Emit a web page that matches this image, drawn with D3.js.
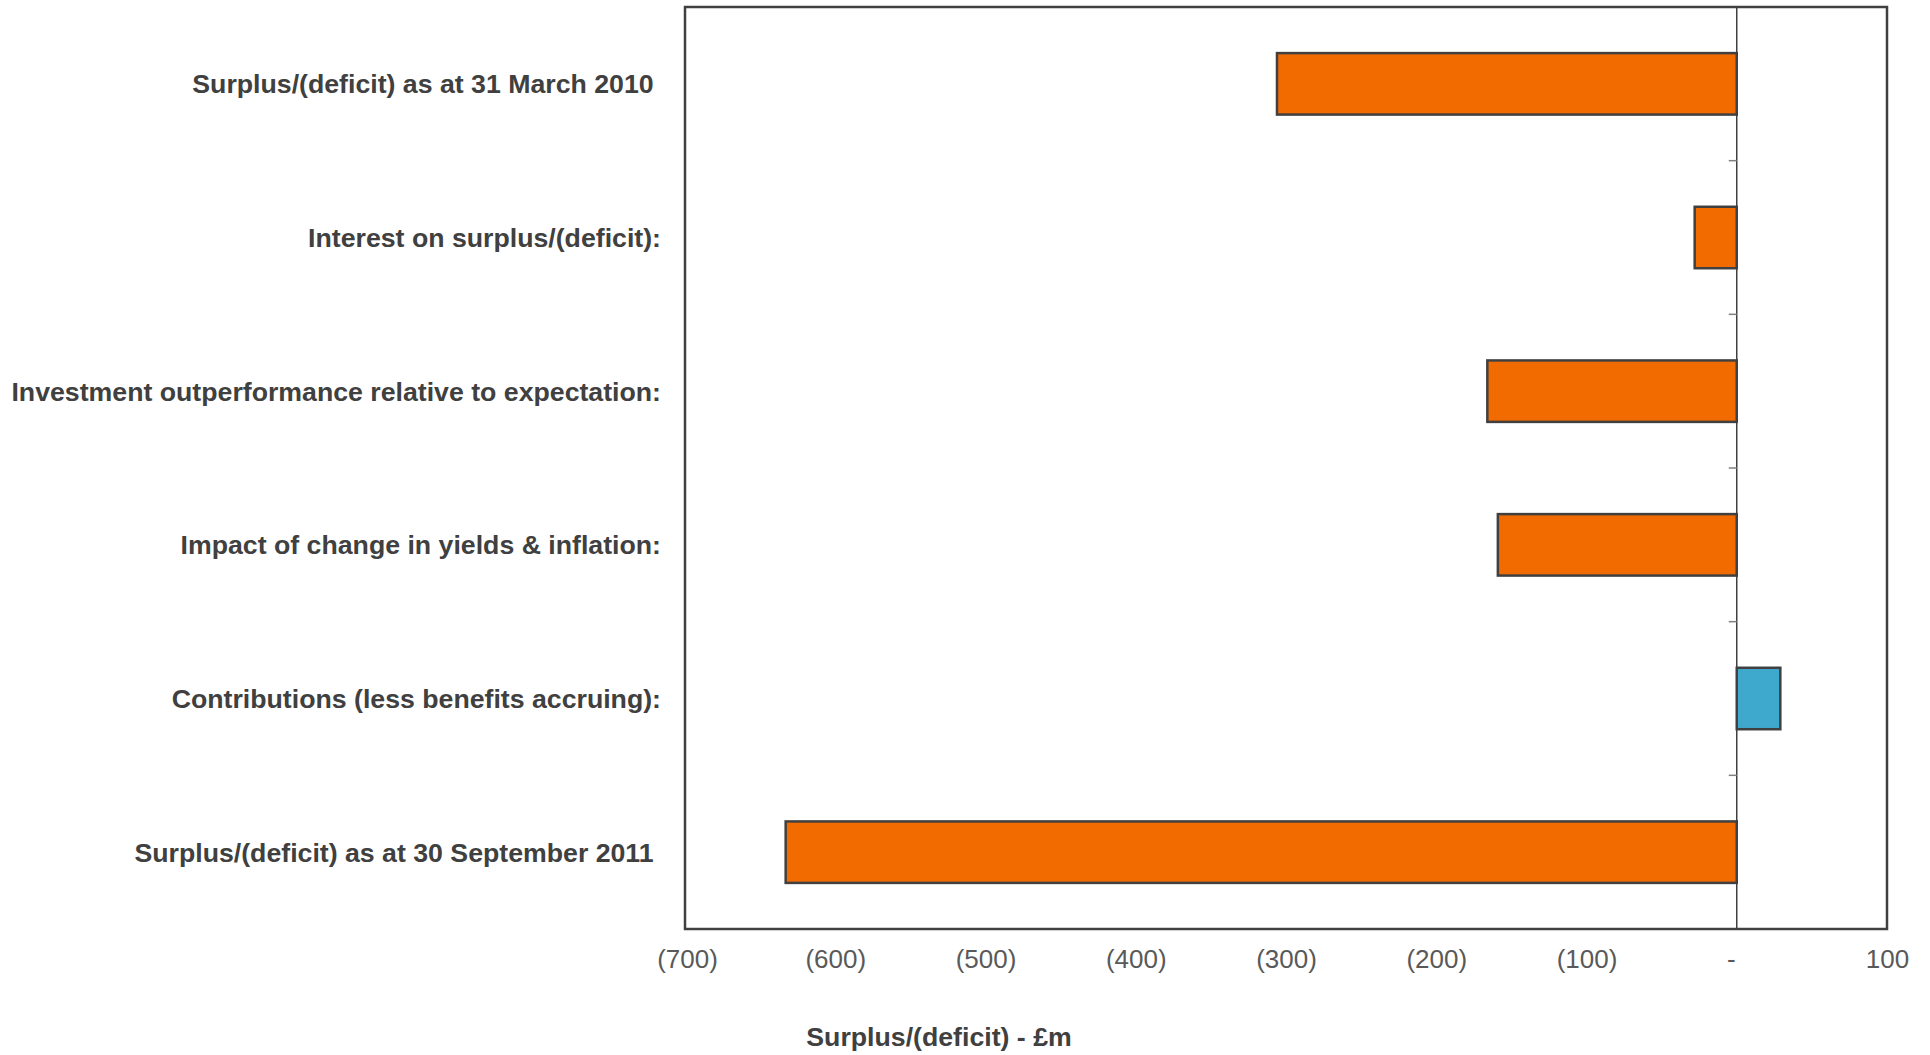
<!DOCTYPE html>
<html>
<head>
<meta charset="utf-8">
<script src="https://cdn.jsdelivr.net/npm/d3@7/dist/d3.min.js"></script>
<style>
  html, body { margin: 0; padding: 0; background: #ffffff; }
  svg { display: block; }
  text { font-family: "Liberation Sans", Arial, sans-serif; white-space: pre; }
</style>
</head>
<body>
<svg id="chart" width="1930" height="1055"></svg>
<script>
// ---- data ----
const categories = [
  "Surplus/(deficit) as at 31 March 2010 ",
  "Interest on surplus/(deficit):",
  "Investment outperformance relative to expectation:",
  "Impact of change in yields & inflation:",
  "Contributions (less benefits accruing):",
  "Surplus/(deficit) as at 30 September 2011 "
];
const values = [-306, -28, -166, -159, 29, -633];
const xTicks = [-700, -600, -500, -400, -300, -200, -100, 0, 100];
const axisTitle = "Surplus/(deficit) - £m";

// ---- layout ----
const svg = d3.select("#chart");
const plotL = 685, plotR = 1887, plotT = 7, plotB = 929;

const x = d3.scaleLinear().domain([-700, 100]).range([plotL, plotR]);
const y = d3.scaleBand().domain(categories).range([plotT, plotB])
  .paddingInner(0.6).paddingOuter(0.3);

const fmt = v => v < 0 ? "(" + Math.abs(v) + ")" : (v === 0 ? "-" : String(v));

// bars
svg.append("g").selectAll("rect").data(values).join("rect")
  .attr("x", d => x(Math.min(0, d)))
  .attr("width", d => Math.abs(x(d) - x(0)))
  .attr("y", (d, i) => y(categories[i]))
  .attr("height", y.bandwidth())
  .attr("fill", d => d < 0 ? "#F26B00" : "#3FA8CD")
  .attr("stroke", "#404040")
  .attr("stroke-width", 2.5);

// zero (category axis) line
svg.append("line")
  .attr("x1", x(0)).attr("x2", x(0))
  .attr("y1", plotT).attr("y2", plotB)
  .attr("stroke", "#404040").attr("stroke-width", 1.5);

// category-boundary ticks on the zero line
const step = y.step();
const boundaries = d3.range(1, categories.length).map(i => plotT + i * step);
svg.append("g").selectAll("line").data(boundaries).join("line")
  .attr("x1", x(0) - 8).attr("x2", x(0))
  .attr("y1", d => d).attr("y2", d => d)
  .attr("stroke", "#808080").attr("stroke-width", 1.5);

// frame
svg.append("rect")
  .attr("x", plotL).attr("y", plotT)
  .attr("width", plotR - plotL).attr("height", plotB - plotT)
  .attr("fill", "none").attr("stroke", "#404040").attr("stroke-width", 2.5);

// category labels
svg.append("g").selectAll("text").data(categories).join("text")
  .attr("x", 661)
  .attr("y", d => y(d) + y.bandwidth() / 2)
  .attr("dy", "0.36em")
  .attr("text-anchor", "end")
  .attr("font-size", 26.7)
  .attr("font-weight", "bold")
  .attr("fill", "#404040")
  .text(d => d);

// x axis labels
const xAxis = d3.axisBottom(x).tickValues(xTicks).tickFormat(fmt).tickSize(0).tickPadding(0);
const gx = svg.append("g").attr("transform", `translate(0, ${plotB})`).call(xAxis);
gx.select(".domain").remove();
gx.selectAll("text")
  .attr("y", 39).attr("dy", 0)
  .attr("dx", d => d === 0 ? -6 : (d === -700 ? 2 : 0))
  .attr("font-size", 26)
  .attr("font-family", "Liberation Sans, Arial, sans-serif")
  .attr("fill", "#595959");

// axis title
svg.append("text")
  .attr("x", 939).attr("y", 1046)
  .attr("text-anchor", "middle")
  .attr("font-size", 26.7)
  .attr("font-weight", "bold")
  .attr("fill", "#404040")
  .text(axisTitle);
</script>
</body>
</html>
